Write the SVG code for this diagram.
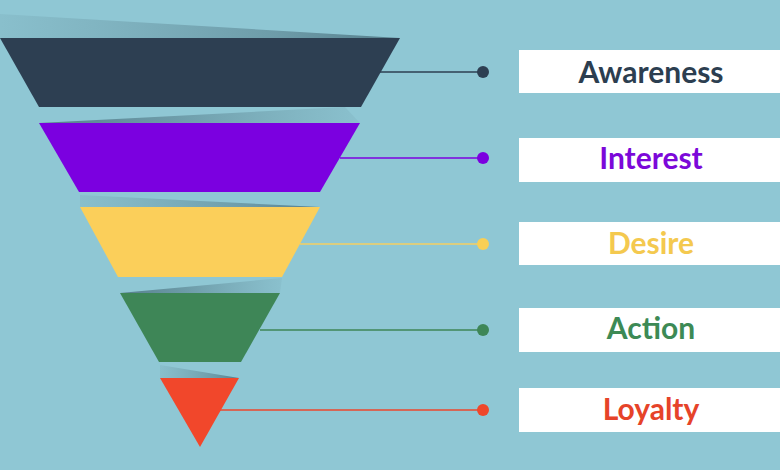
<svg xmlns="http://www.w3.org/2000/svg" width="780" height="470" viewBox="0 0 780 470">
<defs>
<style>
.lbl{font-family:Lato,"Open Sans","Liberation Sans",sans-serif;font-weight:bold;font-size:30px;text-anchor:middle}
.box{fill:#ffffff}
.conn{stroke-width:1.5;fill:none}
</style>
<linearGradient id="shL" x1="0" y1="0" x2="1" y2="0">
<stop offset="0" stop-color="#5d8592" stop-opacity="0.12"/>
<stop offset="0.7" stop-color="#4a6f7c" stop-opacity="0.5"/>
<stop offset="1" stop-color="#3d5f6c" stop-opacity="0.7"/>
</linearGradient>
<linearGradient id="shR" x1="1" y1="0" x2="0" y2="0">
<stop offset="0" stop-color="#5d8592" stop-opacity="0.1"/>
<stop offset="0.6" stop-color="#4a6f7c" stop-opacity="0.5"/>
<stop offset="1" stop-color="#3d5f6c" stop-opacity="0.7"/>
</linearGradient>
</defs>
<rect x="0" y="0" width="780" height="470" fill="#8fc7d4"/>

<g id="shadows">
<polygon points="0,14 400,38 0,38" fill="url(#shL)"/>
<polygon points="39,123 345,107 360,123" fill="url(#shR)"/>
<polygon points="80,195 320,207 80,207" fill="url(#shL)"/>
<polygon points="120,293 282,278 280,293" fill="url(#shR)"/>
<polygon points="160,365 239,378 160,378" fill="url(#shL)"/>
</g>

<g id="connectors">
<line class="conn" x1="380" y1="72" x2="483" y2="72" stroke="#2d3f52"/>
<circle cx="483" cy="72" r="6" fill="#2d3f52"/>
<line class="conn" x1="340" y1="158" x2="483" y2="158" stroke="#7b00e0"/>
<circle cx="483" cy="158" r="6" fill="#7b00e0"/>
<line class="conn" x1="300" y1="244" x2="483" y2="244" stroke="#f5cf62"/>
<circle cx="483" cy="244" r="6" fill="#f8cf55"/>
<line class="conn" x1="260" y1="330" x2="483" y2="330" stroke="#3e8657"/>
<circle cx="483" cy="330" r="6" fill="#3e8657"/>
<line class="conn" x1="220" y1="410" x2="483" y2="410" stroke="#ec472d"/>
<circle cx="483" cy="410" r="6" fill="#ef472b"/>
</g>

<g id="awareness">
<polygon points="0,38 400,38 361,107 39,107" fill="#2d3f52"/>
<rect class="box" x="519" y="50" width="261" height="43"/>
<text class="lbl" x="651" y="83" fill="#2c3e50">Awareness</text>
</g>
<g id="interest">
<polygon points="39,123 360,123 320,192 79,192" fill="#7b00e0"/>
<rect class="box" x="519" y="138" width="261" height="44"/>
<text class="lbl" x="651" y="169" fill="#7c08d9">Interest</text>
</g>
<g id="desire">
<polygon points="80,207 320,207 282,277 118,277" fill="#fbcf5a"/>
<rect class="box" x="519" y="222" width="261" height="43"/>
<text class="lbl" x="651" y="254" fill="#f4c94f">Desire</text>
</g>
<g id="action">
<polygon points="120,293 280,293 241,362 159,362" fill="#3e8657"/>
<rect class="box" x="519" y="308" width="261" height="44"/>
<text class="lbl" x="651" y="339" fill="#3d8a55">Action</text>
</g>
<g id="loyalty">
<polygon points="160,378 239,378 200,447" fill="#f1472b"/>
<rect class="box" x="519" y="388" width="261" height="44"/>
<text class="lbl" x="651" y="420" fill="#e64329">Loyalty</text>
</g>
</svg>
